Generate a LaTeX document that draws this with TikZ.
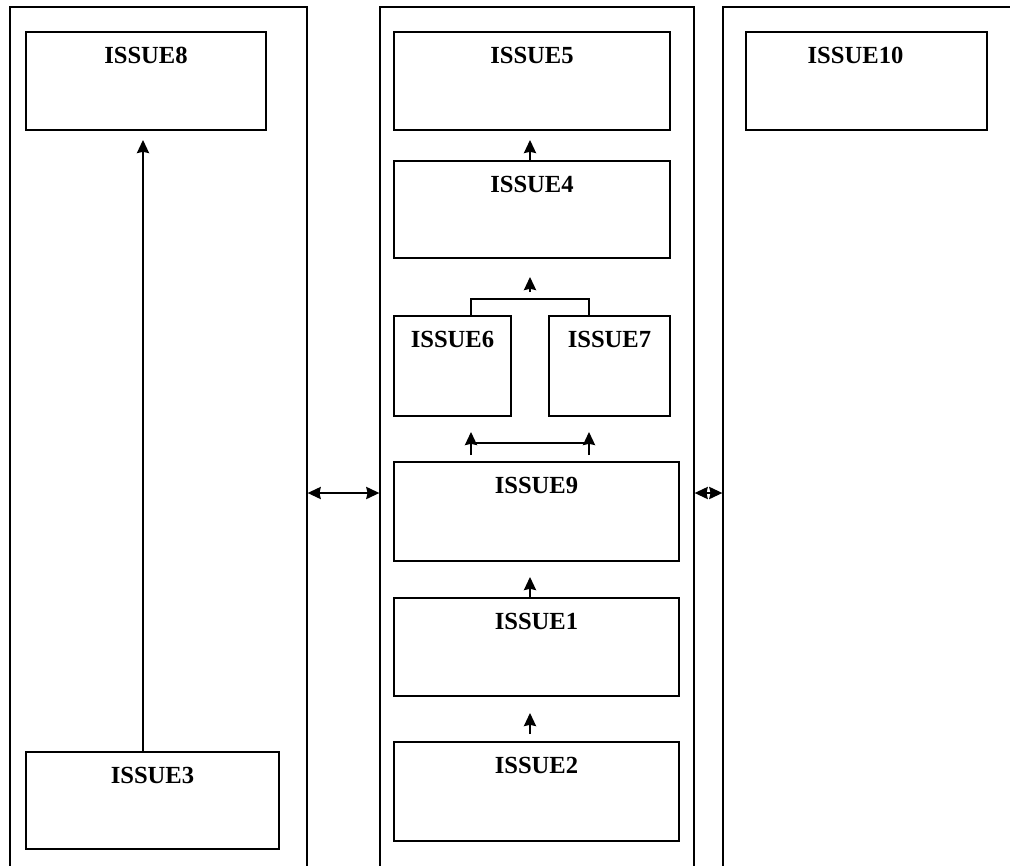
\documentclass[tikz,border=0pt]{standalone}
\usepackage{fontspec}
\setmainfont{Liberation Serif}
\usetikzlibrary{arrows.meta}
\begin{document}
\begin{tikzpicture}[x={(0.02cm,0cm)},y={(0cm,-0.02cm)},line width=0.8pt,
  panel/.style={draw, minimum width=#1, minimum height=17.36cm, inner sep=0pt},
  lbl/.style={anchor=north, yshift=-0.19cm, font=\fontsize{14}{16}\selectfont\bfseries},
  issue/.style={draw, inner sep=0pt, label={[lbl]north:#1}},
  arr/.style={-{Stealth[length=7.5pt,width=7pt,inset=0.8pt]}},
  darr/.style={{Stealth[length=7.5pt,width=7pt,inset=0.8pt]}-{Stealth[length=7.5pt,width=7pt,inset=0.8pt]}}]
\useasboundingbox (0,0) rectangle (1010,865);
\node[panel=5.94cm] (lp) at (158.5,441) {};
\node[panel=6.28cm] (mp) at (537,441) {};
\node[panel=5.94cm] (rp) at (871.5,441) {};
\node[issue=ISSUE8, minimum width=4.8cm, minimum height=1.96cm] (i8) at (146,81) {};
\node[issue=ISSUE3, minimum width=5.06cm, minimum height=1.94cm] (i3) at (152.5,800.5) {};
\node[draw, inner sep=0pt, label={[lbl, xshift=-0.22cm]north:ISSUE10}, minimum width=4.82cm, minimum height=1.96cm] (i10) at (866.5,81) {};
\node[issue=ISSUE5, minimum width=5.52cm, minimum height=1.96cm] (i5) at (532,81) {};
\node[issue=ISSUE4, minimum width=5.52cm, minimum height=1.94cm] (i4) at (532,209.5) {};
\node[issue=ISSUE6, minimum width=2.34cm, minimum height=2cm] (i6) at (452.5,366) {};
\node[issue=ISSUE7, minimum width=2.42cm, minimum height=2cm] (i7) at (609.5,366) {};
\node[issue=ISSUE9, minimum width=5.7cm, minimum height=1.98cm] (i9) at (536.5,511.5) {};
\node[issue=ISSUE1, minimum width=5.7cm, minimum height=1.96cm] (i1) at (536.5,647) {};
\node[issue=ISSUE2, minimum width=5.7cm, minimum height=1.98cm] (i2) at (536.5,791.5) {};
\coordinate (t8) at (143,140);
\coordinate (t5) at (530,140);
\coordinate (t4) at (530,277);
\coordinate (m67) at (530,292);
\coordinate (j6) at (471,299);
\coordinate (j7) at (589,299);
\coordinate (b6) at (471,455);
\coordinate (b7) at (589,455);
\coordinate (c6) at (471,432);
\coordinate (c7) at (589,432);
\coordinate (t9) at (530,577);
\coordinate (b1) at (530,734);
\coordinate (t1) at (530,713);
\coordinate (h) at (0,493);
\draw[arr] (i3.north -| t8) -- (t8);
\draw[arr] (i4.north -| t5) -- (t5);
\draw[arr] (m67) -- (t4);
\draw (i6.north -| j6) |- (j7) -- (i7.north -| j7);
\draw[arr] (b6) -- (c6);
\draw[arr] (b7) -- (c7);
\draw (b6 |- 0,443) -- (b7 |- 0,443);
\draw[arr] (i1.north -| t9) -- (t9);
\draw[arr] (b1) -- (t1);
\draw[darr] (lp.east |- h) -- (mp.west |- h);
\draw[darr] (mp.east |- h) -- (rp.west |- h);
\end{tikzpicture}
\end{document}
